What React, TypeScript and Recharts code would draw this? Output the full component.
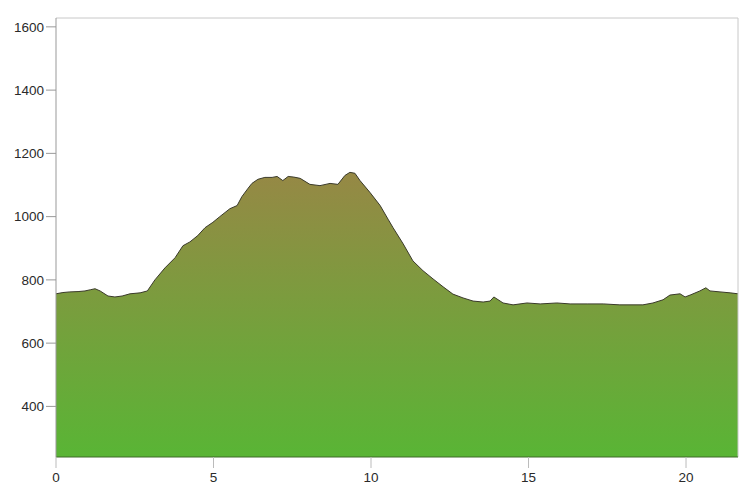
import { Area, AreaChart, ReferenceLine, XAxis, YAxis } from "recharts";

const distances = [
  0, 0.22, 0.44, 0.7, 0.92, 1.1, 1.24, 1.4, 1.65, 1.87, 2.1, 2.35, 2.67, 2.9,
  3.14, 3.46, 3.78, 4.03, 4.25, 4.5, 4.73, 4.98, 5.2, 5.52, 5.75, 5.9, 6.1,
  6.22, 6.41, 6.63, 6.86, 7.02, 7.2, 7.37, 7.55, 7.75, 8.06, 8.38, 8.7, 8.95,
  9.17, 9.33, 9.49, 9.65, 9.97, 10.29, 10.54, 10.7, 11.02, 11.33, 11.65,
  11.97, 12.29, 12.6, 12.92, 13.24, 13.56, 13.78, 13.9, 14.1, 14.19, 14.51,
  14.95, 15.37, 15.9, 16.32, 16.86, 17.37, 17.9, 18.63, 18.95, 19.27, 19.49,
  19.81, 19.97, 20.13, 20.44, 20.63, 20.76, 21.08, 21.4, 21.65
];

const elevations = [
  756, 760, 762, 763, 765, 769, 772, 765, 749, 746, 749, 756, 759, 765,
  800, 838, 870, 908, 920, 940, 965, 982, 1000, 1025, 1035, 1063, 1090,
  1105, 1118, 1124, 1124, 1127, 1114, 1127, 1125, 1121, 1102, 1098, 1105, 1102,
  1130, 1140, 1137, 1114, 1076, 1035, 992, 965, 914, 860, 829,
  803, 778, 755, 743, 733, 730, 733, 746, 733, 727, 721,
  727, 724, 727, 724, 724, 724, 721, 721, 727, 737, 752,
  756, 746, 752, 765, 775, 765, 762, 759, 756
];

const yTicks = [400, 600, 800, 1000, 1200, 1400, 1600];
const xTicks = [0, 5, 10, 15, 20];

const profile = distances.map((d, i) => ({ km: d, ele: elevations[i] }));

const tickFont = {
  fill: "#2a2a2a",
  fontSize: 13.5,
  fontFamily: "'Liberation Sans', Arial, sans-serif"
};

export default function App() {
  return (
    <div style={{ position: "absolute", left: 0, top: 0, background: "#fff" }}>
      <AreaChart
        width={756}
        height={489}
        data={profile}
        margin={{ top: 18, right: 18, bottom: 0, left: 0 }}
      >
        <defs>
          <linearGradient id="eleFill" x1="0" x2="0" y1="0" y2="1">
            <stop offset="0%" stopColor="#968845" />
            <stop offset="100%" stopColor="#59b535" />
          </linearGradient>
        </defs>
        <XAxis
          dataKey="km"
          type="number"
          domain={[0, 21.65]}
          ticks={xTicks}
          height={32}
          tickSize={11}
          tickMargin={4}
          tickLine={{ stroke: "#bbb" }}
          axisLine={{ stroke: "#3f6a28" }}
          tick={tickFont}
        />
        <YAxis
          type="number"
          domain={[240, 1628]}
          ticks={yTicks}
          width={56}
          tickSize={10}
          tickLine={{ stroke: "#999" }}
          axisLine={{ stroke: "#999" }}
          tick={tickFont}
          allowDataOverflow
        />
        <ReferenceLine y={1628} stroke="#c8c8c8" />
        <ReferenceLine x={21.65} stroke="#c8c8c8" />
        <Area
          type="linear"
          dataKey="ele"
          baseValue={240}
          stroke="#3a3a2a"
          strokeWidth={1}
          fill="url(#eleFill)"
          fillOpacity={1}
          isAnimationActive={false}
          dot={false}
          activeDot={false}
        />
      </AreaChart>
    </div>
  );
}
